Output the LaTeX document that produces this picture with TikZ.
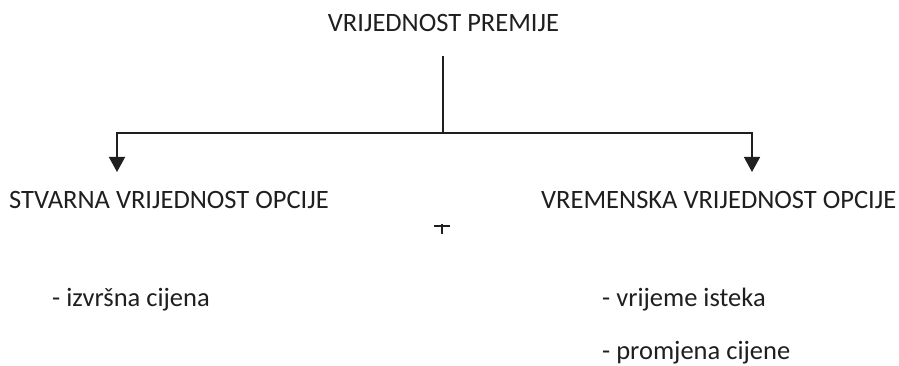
\documentclass[tikz,border=0pt]{standalone}
\usepackage{fontspec}
\setmainfont{Carlito}
\usetikzlibrary{arrows.meta}
\begin{document}
\begin{tikzpicture}[x=1pt,y=-1pt,
  txt/.style={inner sep=0pt, anchor=base west, font=\fontsize{26.5}{31}\selectfont, text=black!88},
  conn/.style={line width=1.5pt, draw=black!88},
  arr/.style={conn, -{Triangle[length=15pt,width=16pt]}}]
\useasboundingbox (0,0) rectangle (899,366);
\node[txt, anchor=base] (title) at (443.5,32) {VRIJEDNOST PREMIJE};
\coordinate (top) at (443,56);
\coordinate (junc) at (443,133);
\coordinate (ltip) at (117,172);
\coordinate (rtip) at (752,172);
\node[txt] (stv) at (9,208) {STVARNA VRIJEDNOST OPCIJE};
\node[txt] (vre) at (541,208) {VREMENSKA VRIJEDNOST OPCIJE};
\node[txt] (izv) at (52,306) {- izvršna cijena};
\node[txt] (vri) at (602,306) {- vrijeme isteka};
\node[txt] (pro) at (602,359) {- promjena cijene};
\draw[conn] (top) -- (junc);
\draw[arr] (junc) -| (ltip);
\draw[arr] (junc) -| (rtip);
\coordinate (plusc) at (442,226);
\draw[conn] ([xshift=-8pt]plusc) -- ([xshift=8pt]plusc);
\draw[conn] ([yshift=-8pt]plusc) -- ([yshift=2pt]plusc);
\end{tikzpicture}
\end{document}
